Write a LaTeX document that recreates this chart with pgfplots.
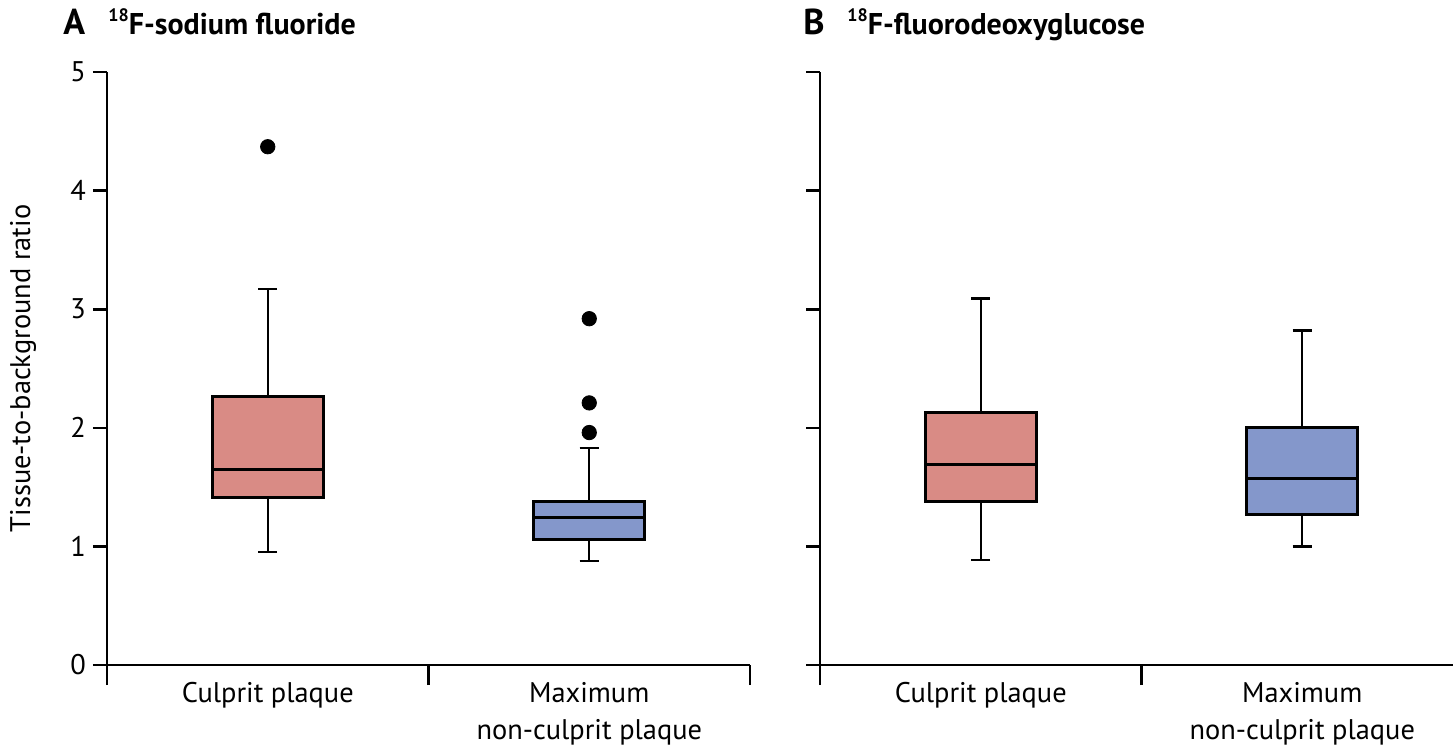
\documentclass[border=0pt]{standalone}
\usepackage{pgfplots}
\pgfplotsset{compat=1.18}
\usepgfplotslibrary{statistics}
\usepackage{fontspec}
\setmainfont{PT Sans}
\definecolor{redbox}{RGB}{217,139,133}
\definecolor{bluebox}{RGB}{132,151,203}
\newcommand{\lblfont}{\fontsize{14.2}{18.5}\selectfont}
\newcommand{\ttlfont}{\fontsize{15}{18}\selectfont\bfseries}
\newcommand{\letfont}{\fontsize{18}{20}\selectfont\bfseries}
\pgfplotsset{
 panel/.style={
  scale only axis, width=321.5pt, height=296.5pt,
  xmin=0, xmax=2, ymin=0, ymax=5,
  axis x line=bottom, axis y line=left,
  axis line style={-, line width=1.3pt, black},
  xtick={0,1,2}, xticklabels={},
  ytick={0,1,2,3,4,5},
  tick align=outside,
  major tick length=7pt,
  every tick/.style={line width=1.3pt, black},
  xtick style={/pgfplots/major tick length=10pt},
  extra x ticks={0.5,1.5},
  extra x tick labels={Culprit plaque, {Maximum\\non-culprit plaque}},
  extra x tick style={major tick length=0pt, tick style={draw=none},
     xticklabel style={align=center, anchor=north, yshift=-5pt, font=\lblfont}},
  ticklabel style={font=\lblfont},
  /pgf/number format/assume math mode=true,
  boxplot/draw direction=y,
  boxplot/box extend=0.345,
  boxplot/whisker extend=0.06,
  boxplot/every box/.style={line width=1.5pt, draw=black},
  boxplot/every median/.style={line width=1.5pt, draw=black},
  boxplot/every whisker/.style={line width=1.1pt, draw=black},
  clip=false,
 },
 bx/.style={draw=black, fill=#1, mark=*, mark size=3.6pt,
   mark options={draw=black, fill=black, solid}},
}
\begin{document}
\begin{tikzpicture}
\useasboundingbox (0,0) rectangle (726.5pt,375.5pt);
% Panel A
\begin{axis}[panel, at={(53.5pt,43pt)}, anchor=south west,
  ylabel={Tissue-to-background ratio},
  ylabel style={font=\lblfont, at={(axis description cs:-0.1306,0.5)}, anchor=center}]
\addplot[bx=redbox, boxplot prepared={draw position=0.5,
   median=1.65, upper quartile=2.26, lower quartile=1.41,
   upper whisker=3.17, lower whisker=0.95}]
   table[row sep=\\, y index=0] {4.37\\};
\addplot[bx=bluebox, boxplot prepared={draw position=1.5,
   median=1.24, upper quartile=1.38, lower quartile=1.06,
   upper whisker=1.83, lower whisker=0.88}]
   table[row sep=\\, y index=0] {2.92\\ 2.21\\ 1.96\\};
\end{axis}
% Panel B
\begin{axis}[panel, at={(410pt,43pt)}, anchor=south west, yticklabels={}]
\addplot[bx=redbox, boxplot prepared={draw position=0.5,
   median=1.69, upper quartile=2.13, lower quartile=1.38,
   upper whisker=3.09, lower whisker=0.885}]
   coordinates {};
\addplot[bx=bluebox, boxplot prepared={draw position=1.5,
   median=1.57, upper quartile=2.00, lower quartile=1.27,
   upper whisker=2.82, lower whisker=1.00}]
   coordinates {};
\end{axis}
% Titles
\node[anchor=base west, inner sep=0pt, font=\letfont] at (31.5pt,358pt) {A};
\node[anchor=base west, inner sep=0pt, font=\ttlfont] at (54pt,358pt) {\raisebox{0.45em}{\fontsize{9}{9}\selectfont 18}F-sodium fluoride};
\node[anchor=base west, inner sep=0pt, font=\letfont] at (401.5pt,358pt) {B};
\node[anchor=base west, inner sep=0pt, font=\ttlfont] at (423.5pt,358pt) {\raisebox{0.45em}{\fontsize{9}{9}\selectfont 18}F-fluorodeoxyglucose};
\end{tikzpicture}
\end{document}
